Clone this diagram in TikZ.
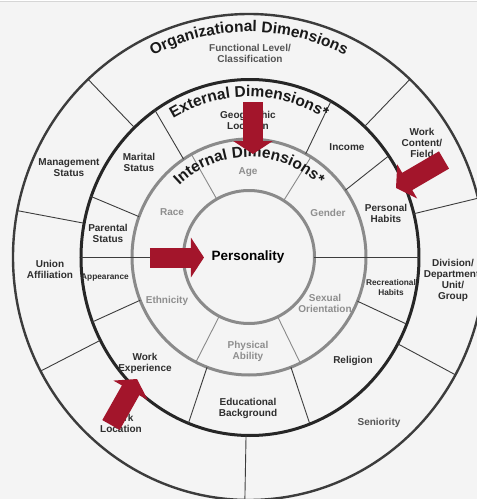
\documentclass[tikz,border=0pt]{standalone}
\usepackage{fontspec}
\setmainfont{Liberation Sans}
\usetikzlibrary{arrows.meta,decorations.text}
\definecolor{bgcol}{HTML}{F4F4F4}
\definecolor{redarrow}{HTML}{A3152B}
\definecolor{labcol}{HTML}{2E2E2E}
\definecolor{graylab}{HTML}{8E8E8E}
\definecolor{funccol}{HTML}{555555}
\definecolor{ringgray}{HTML}{8A8A8A}
\definecolor{linecol}{HTML}{3C3C3C}
\definecolor{topline}{HTML}{D6D6D6}
\newcommand\labfont{\fontsize{10}{11}\selectfont\bfseries}
\newcommand\smlabfont{\fontsize{8.3}{9.5}\selectfont\bfseries}
\newcommand\titfont{\fontsize{15.5}{18}\selectfont\bfseries}
\newcommand\persfont{\fontsize{13.5}{15}\selectfont\bfseries}
\begin{document}
\begin{tikzpicture}[x=1pt,y=1pt,
  lab/.style={font=\labfont,text=labcol,align=center,inner sep=0pt},
  smlab/.style={lab,font=\smlabfont},
  glab/.style={lab,text=graylab},
  perslab/.style={lab,font=\persfont,text=black},
  ringO/.style={draw=linecol,line width=2.4pt},
  ringE/.style={draw=black!85,line width=3pt},
  ringI/.style={draw=ringgray,line width=3pt},
  spoke/.style={draw=linecol,line width=0.9pt},
  gspoke/.style={draw=ringgray,line width=0.9pt},
  redarr/.style={draw=redarrow,line width=20pt,-{Triangle[width=39pt,length=13pt]}},
  titletext/.style={decorate,decoration={text along path,text align=center,text color=black!90,text={|\titfont|#1}}}
]
\useasboundingbox (-249,-242) rectangle (228,257);
\clip (-249,-242) rectangle (228,257);
\fill[bgcol] (-249,-242) rectangle (228,257);
\fill[white] (-249,255.5) rectangle (228,257);
\draw[topline,line width=1.2pt] (-249,255.5) -- (228,255.5);

% rings
\draw[ringO] (0,0) ellipse[x radius=236,y radius=243];
\draw[ringE] (1,-0.5) ellipse[x radius=169,y radius=178];
\draw[ringI] (0,0) ellipse[x radius=117,y radius=118];
\draw[ringI] (0,0) ellipse[x radius=65.5,y radius=66.5];

% organizational ring spokes
\foreach \a in {133,47,169,208,269,331,14}
  \draw[spoke] (\a:169 and 178) -- (\a:236 and 243);
% external ring spokes
\foreach \a in {124,61,34.5,338,291,249,201.5,160}
  \draw[spoke] (\a:117 and 118) -- (\a:169 and 178);
% horizontal lines through internal and external rings
\draw[spoke] (0:65.5 and 66.5) -- (0:170 and 178);
\draw[spoke] (180:65.5 and 66.5) -- (180:168 and 178);
% internal ring spokes
\foreach \a in {119.5,58,296,243}
  \draw[gspoke] (\a:65.5 and 66.5) -- (\a:117 and 118);

% ring titles
\path[titletext={Organizational Dimensions}] (170:216 and 225) arc[start angle=170,end angle=10,x radius=216,y radius=225];
\path[titletext={External Dimensions*}] (170:152 and 160) arc[start angle=170,end angle=10,x radius=152,y radius=160];
\path[titletext={Internal Dimensions*}] (180:100 and 100) arc[start angle=180,end angle=0,x radius=100,y radius=100];

% organizational labels
\node[lab,text=funccol] (func) at (1,204) {Functional Level/\\Classification};
\node[lab] (mgmt) at (-180,89) {Management\\Status};
\node[lab] (union) at (-199,-12.5) {Union\\Affiliation};
\node[lab] (wloc) at (-128,-166) {Work\\Location};
\node[lab,text=funccol] (senior) at (130,-166) {Seniority};
\node[lab] (div) at (204,-23) {Division/\\Department/\\Unit/\\Group};
\node[lab] (wcont) at (173,114) {Work\\Content/\\Field};

% external labels
\node[lab] (geo) at (-1,136.5) {Geographic\\Location};
\node[lab] (income) at (98,110) {Income};
\node[lab] (phab) at (137,43.5) {Personal\\Habits};
\node[smlab] (rhab) at (142,-30.5) {Recreational\\Habits};
\node[lab] (relig) at (104,-104) {Religion};
\node[lab] (edu) at (-1,-151.5) {Educational\\Background};
\node[lab] (wexp) at (-104,-106.5) {Work\\Experience};
\node[smlab] (appear) at (-144,-21) {Appearance};
\node[lab] (parent) at (-141,24) {Parental\\Status};
\node[lab] (marital) at (-110,94.5) {Marital\\Status};

% internal labels
\node[glab] (age) at (-1,85) {Age};
\node[glab] (gender) at (79,44) {Gender};
\node[glab] (sexo) at (76,-46) {Sexual\\Orientation};
\node[glab] (phys) at (-1,-94) {Physical\\Ability};
\node[glab] (eth) at (-82,-44) {Ethnicity};
\node[glab] (race) at (-77,45) {Race};

\node[perslab] (pers) at (-1,0) {Personality};

% red arrows
\coordinate (a1s) at (4,155);   \coordinate (a1e) at (4,103);
\coordinate (a2s) at (-99,-0.5); \coordinate (a2e) at (-45,-0.5);
\coordinate (a3s) at (195,97);  \coordinate (a3e) at (147,69);
\coordinate (a4s) at (-138,-168); \coordinate (a4e) at (-112,-122);
\draw[redarr] (a1s) -- (a1e);
\draw[redarr] (a2s) -- (a2e);
\draw[redarr] (a3s) -- (a3e);
\draw[redarr] (a4s) -- (a4e);
\end{tikzpicture}
\end{document}
